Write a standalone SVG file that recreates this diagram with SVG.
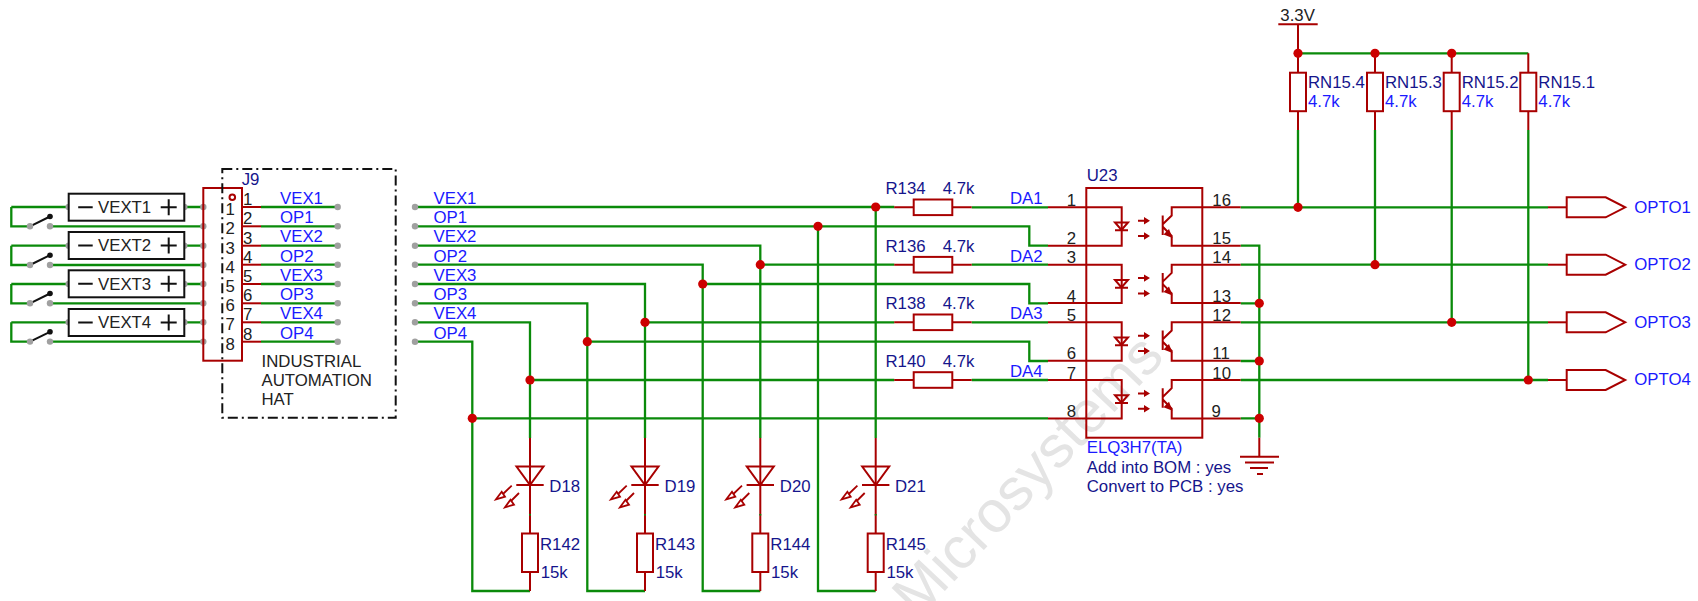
<svg xmlns="http://www.w3.org/2000/svg" xmlns:xlink="http://www.w3.org/1999/xlink" width="1698" height="601" viewBox="0 0 1698 601">
<style>
text{font-family:"Liberation Sans",Arial,sans-serif;font-size:16.8px;fill:#15158c}
.b{fill:#1a1aff}.k{fill:#222}
.wm{font-size:59px;fill:#e4e4e4}
.g{fill:none;stroke:#0a8a0a;stroke-width:2.3}
.r{fill:none;stroke:#a80000;stroke-width:2}
.rf{fill:#fff;stroke:#a80000;stroke-width:2}
.l{fill:none;stroke:#111;stroke-width:2}
.d{fill:#cc0000;stroke:none}
.p{fill:#a0a0a0;stroke:none}
.ah{fill:#a80000;stroke:none}
</style>
<defs>
<circle id="dot" class="d" r="4.6"/>
<circle id="pin" class="p" r="3.2"/>
<g id="vres"><rect class="rf" x="-8" y="0" width="16" height="38.5"/></g>
<g id="hres"><path class="r" d="M-19.5 0H0M38.6 0H58"/><rect class="rf" x="0" y="-7.8" width="38.6" height="15.6"/></g>
<g id="led"><path class="r" d="M0 0V95.5"/><path d="M-1 76h2v1.5h-2z" fill="#0a8a0a"/><path class="r" d="M-13.5 28.5H13.5L0 47ZM-13.7 47H13.7"/>
<path fill="none" stroke="#a80000" stroke-width="1.8" d="M-18.3 47.7L-27 56M-11 55L-19 63"/><path fill="none" stroke="#a80000" stroke-width="1.8" d="M-34 61.3L-28.3 53.7L-25 58.7ZM-25 69.3L-19.5 61.7L-16 66.7Z"/></g>
<g id="tag"><path class="r" d="M-18.7 0H0"/><path class="r" d="M0 -10H39L58.5 0L39 10H0Z"/></g>
<g id="opto">
<path class="r" d="M1048 207.3H1121.7V245.7H1048"/>
<path class="r" d="M1115 222.5H1128L1121.5 230ZM1115 230.3H1128"/>
<path class="r" d="M1138 220.7H1145M1138 236H1145"/><path class="ah" d="M1144 217L1150 220.7L1144 224.4ZM1144 232.3L1150 236L1144 239.7Z"/>
<path class="r" d="M1162.7 215.5V235M1163 224L1171.7 215.5V207.3H1240.7M1163 227L1171.7 236V245.7H1240.7"/>
<path class="ah" d="M1172.5 238L1163.5 234.5L1169 229Z"/>
</g>
<g id="vext"><rect x="0" y="-13.5" width="115.6" height="27" fill="#fff" stroke="#111" stroke-width="2"/><path class="l" d="M9.5 0H24M92 0H108M100 -8V8"/></g>
<g id="sw"><path class="g" d="M11.3 0H68M11.3 0V19.3H30M50 19.3H203.3M184.3 0H203.3"/><path class="l" d="M30 19.3L50 9.5"/><circle cx="50" cy="9.5" r="2.8" fill="#111"/>
<use xlink:href="#pin" x="30" y="19.3"/><use xlink:href="#pin" x="50" y="19.3"/><use xlink:href="#pin" x="68.7" y="0"/><use xlink:href="#pin" x="184.3" y="0"/><use xlink:href="#pin" x="203.3" y="0"/><use xlink:href="#pin" x="203.3" y="19.3"/></g>
<g id="hatpin"><path class="r" d="M242 0H261"/><path class="g" d="M261 0H337.7"/><use xlink:href="#pin" x="337.7" y="0"/><use xlink:href="#pin" x="415" y="0"/></g>
</defs>

<text class="wm" transform="translate(1166 358) rotate(-46.5)" text-anchor="end">t Microsystems</text>

<g id="connectors">
<path class="g" d="M415 207H894.3M971.7 207.3H1048"/>
<path class="g" d="M415 226.3H1029.3V245.7H1048"/>
<path class="g" d="M415 245.7H760.3V438"/>
<path class="g" d="M760.3 264.7H894.3M971.7 264.7H1048"/>
<path class="g" d="M415 264.7H702.7V591H760.3"/>
<path class="g" d="M702.7 284H1029.3V303.3H1048"/>
<path class="g" d="M415 284H645V438"/>
<path class="g" d="M645 322.3H894.3M971.7 322.3H1048"/>
<path class="g" d="M415 303.3H587.3V591H645"/>
<path class="g" d="M587.3 341.7H1029.3V361H1048"/>
<path class="g" d="M415 322.3H530V438"/>
<path class="g" d="M530 380H894.3M971.7 380H1048"/>
<path class="g" d="M415 341.7H472.3V591H530"/>
<path class="g" d="M472.3 418.3H1048"/>
<path class="g" d="M875.7 207V438"/>
<path class="g" d="M818 226.3V591H875.7"/>
<path class="r" d="M530 572V591M645 572V591M760.3 572V591M875.7 572V591"/>
<path class="g" d="M1240.7 207.3H1548M1240.7 264.7H1548M1240.7 322.3H1548M1240.7 380H1548"/>
<path class="g" d="M1240.7 245.7H1259.3V437.7M1240.7 303.3H1259.3M1240.7 361H1259.3M1240.7 418.3H1259.3"/>
<path class="g" d="M1298 53.3H1528.3M1298 130V207.3M1375 130V264.7M1451.7 130V322.3M1528.3 130V380"/>
<path class="r" d="M1298 24.3V72.7M1375 53.3V72.7M1451.7 53.3V72.7M1528.3 53.3V72.7M1298 111V130M1375 111V130M1451.7 111V130M1528.3 111V130"/>
<use xlink:href="#dot" x="875.7" y="207"/><use xlink:href="#dot" x="818" y="226.3"/><use xlink:href="#dot" x="760.3" y="264.7"/><use xlink:href="#dot" x="702.7" y="284"/>
<use xlink:href="#dot" x="645" y="322.3"/><use xlink:href="#dot" x="587.3" y="341.7"/><use xlink:href="#dot" x="530" y="380"/><use xlink:href="#dot" x="472.3" y="418.3"/>
<use xlink:href="#dot" x="1259.3" y="303.3"/><use xlink:href="#dot" x="1259.3" y="361"/><use xlink:href="#dot" x="1259.3" y="418.3"/>
<use xlink:href="#dot" x="1298" y="53.3"/><use xlink:href="#dot" x="1375" y="53.3"/><use xlink:href="#dot" x="1451.7" y="53.3"/>
<use xlink:href="#dot" x="1298" y="207.3"/><use xlink:href="#dot" x="1375" y="264.7"/><use xlink:href="#dot" x="1451.7" y="322.3"/><use xlink:href="#dot" x="1528.3" y="380"/>
</g>

<g id="switches">
<use xlink:href="#sw" y="207"/><use xlink:href="#sw" y="245.7"/><use xlink:href="#sw" y="284"/><use xlink:href="#sw" y="322.3"/>
</g>
<g id="VEXT1"><use xlink:href="#vext" x="68.7" y="207.2"/><text class="k" x="98" y="212.8">VEXT1</text></g>
<g id="VEXT2"><use xlink:href="#vext" x="68.7" y="245.5"/><text class="k" x="98" y="251.2">VEXT2</text></g>
<g id="VEXT3"><use xlink:href="#vext" x="68.7" y="283.8"/><text class="k" x="98" y="289.5">VEXT3</text></g>
<g id="VEXT4"><use xlink:href="#vext" x="68.7" y="322.5"/><text class="k" x="98" y="328">VEXT4</text></g>

<g id="J9">
<rect x="203.3" y="188" width="38.7" height="172.7" fill="none" stroke="#a80000" stroke-width="2"/>
<circle cx="232.3" cy="197.3" r="2.8" fill="none" stroke="#a80000" stroke-width="2"/>
<text x="241.7" y="185">J9</text>
<text class="k" x="225.5" y="215">1</text><text class="k" x="225.5" y="234">2</text><text class="k" x="225.5" y="254">3</text><text class="k" x="225.5" y="273">4</text><text class="k" x="225.5" y="292">5</text><text class="k" x="225.5" y="311">6</text><text class="k" x="225.5" y="330">7</text><text class="k" x="225.5" y="350">8</text>
<text class="k" x="243" y="205">1</text><text class="k" x="243" y="224">2</text><text class="k" x="243" y="244">3</text><text class="k" x="243" y="263">4</text><text class="k" x="243" y="282">5</text><text class="k" x="243" y="301">6</text><text class="k" x="243" y="320">7</text><text class="k" x="243" y="340">8</text>
<use xlink:href="#hatpin" y="207"/><use xlink:href="#hatpin" y="226.3"/><use xlink:href="#hatpin" y="245.7"/><use xlink:href="#hatpin" y="264.7"/><use xlink:href="#hatpin" y="284"/><use xlink:href="#hatpin" y="303.3"/><use xlink:href="#hatpin" y="322.3"/><use xlink:href="#hatpin" y="341.7"/>
<text class="b" x="280" y="204">VEX1</text><text class="b" x="280" y="223">OP1</text><text class="b" x="280" y="242">VEX2</text><text class="b" x="280" y="261.5">OP2</text><text class="b" x="280" y="281">VEX3</text><text class="b" x="280" y="300">OP3</text><text class="b" x="280" y="319">VEX4</text><text class="b" x="280" y="338.5">OP4</text>
</g>
<g id="hat-box"><rect x="222.3" y="169" width="173.4" height="248.7" fill="none" stroke="#111" stroke-width="2" stroke-dasharray="10 4 2 4"/>
<text class="k" x="261.5" y="366.7">INDUSTRIAL</text><text class="k" x="261.5" y="385.7">AUTOMATION</text><text class="k" x="261.5" y="405">HAT</text></g>
<g id="nets">
<text class="b" x="433.5" y="204">VEX1</text><text class="b" x="433.5" y="223">OP1</text><text class="b" x="433.5" y="242">VEX2</text><text class="b" x="433.5" y="261.5">OP2</text><text class="b" x="433.5" y="281">VEX3</text><text class="b" x="433.5" y="300">OP3</text><text class="b" x="433.5" y="319">VEX4</text><text class="b" x="433.5" y="338.5">OP4</text>
</g>

<g id="R134"><use xlink:href="#hres" x="913.7" y="207.3"/><text x="885.5" y="194">R134</text><text x="942.7" y="194">4.7k</text><text class="b" x="1010" y="204">DA1</text></g>
<g id="R136"><use xlink:href="#hres" x="913.7" y="264.7"/><text x="885.5" y="251.7">R136</text><text x="942.7" y="251.7">4.7k</text><text class="b" x="1010" y="261.7">DA2</text></g>
<g id="R138"><use xlink:href="#hres" x="913.7" y="322.3"/><text x="885.5" y="309.3">R138</text><text x="942.7" y="309.3">4.7k</text><text class="b" x="1010" y="319">DA3</text></g>
<g id="R140"><use xlink:href="#hres" x="913.7" y="380"/><text x="885.5" y="367">R140</text><text x="942.7" y="367">4.7k</text><text class="b" x="1010" y="376.7">DA4</text></g>

<g id="D18"><use xlink:href="#led" x="530" y="438"/><text x="549.3" y="491.7">D18</text></g>
<g id="D19"><use xlink:href="#led" x="645" y="438"/><text x="664.6" y="491.7">D19</text></g>
<g id="D20"><use xlink:href="#led" x="760.3" y="438"/><text x="779.8" y="491.7">D20</text></g>
<g id="D21"><use xlink:href="#led" x="875.7" y="438"/><text x="895" y="491.7">D21</text></g>
<g id="R142"><use xlink:href="#vres" x="530" y="533.5"/><text x="540" y="550">R142</text><text x="540.7" y="577.7">15k</text></g>
<g id="R143"><use xlink:href="#vres" x="645" y="533.5"/><text x="655" y="550">R143</text><text x="655.7" y="577.7">15k</text></g>
<g id="R144"><use xlink:href="#vres" x="760.3" y="533.5"/><text x="770.3" y="550">R144</text><text x="771" y="577.7">15k</text></g>
<g id="R145"><use xlink:href="#vres" x="875.7" y="533.5"/><text x="885.7" y="550">R145</text><text x="886.4" y="577.7">15k</text></g>

<g id="U23">
<rect x="1086.3" y="188" width="116" height="249.7" fill="none" stroke="#a80000" stroke-width="2"/>
<use xlink:href="#opto"/><use xlink:href="#opto" y="57.4"/><use xlink:href="#opto" y="115"/><use xlink:href="#opto" y="172.7"/>
<text x="1086.7" y="180.7">U23</text>
<text class="b" x="1086.7" y="453.3">ELQ3H7(TA)</text>
<text x="1086.7" y="472.5">Add into BOM : yes</text>
<text x="1086.7" y="491.5">Convert to PCB : yes</text>
<g text-anchor="end"><text class="k" x="1076" y="205.7">1</text><text class="k" x="1076" y="244">2</text><text class="k" x="1076" y="263">3</text><text class="k" x="1076" y="301.7">4</text><text class="k" x="1076" y="321">5</text><text class="k" x="1076" y="359">6</text><text class="k" x="1076" y="379">7</text><text class="k" x="1076" y="416.7">8</text></g>
<text class="k" x="1212.3" y="205.7">16</text><text class="k" x="1212.3" y="244">15</text><text class="k" x="1212.3" y="263">14</text><text class="k" x="1212.3" y="301.7">13</text><text class="k" x="1212.3" y="321">12</text><text class="k" x="1212.3" y="359">11</text><text class="k" x="1212.3" y="379">10</text><text class="k" x="1211.5" y="416.7">9</text>
</g>
<g id="GND"><path class="r" d="M1259.3 437.7V456.7M1240 456.7H1279M1245 462.5H1274M1250 468H1268M1257 474H1263"/></g>
<g id="VCC"><path class="r" d="M1278.3 24.3H1317.7"/><text class="k" x="1280.3" y="20.7">3.3V</text></g>
<g id="RN15.4"><use xlink:href="#vres" x="1298" y="72.7"/><text x="1308" y="88.3">RN15.4</text><text class="b" x="1308" y="107.3">4.7k</text></g>
<g id="RN15.3"><use xlink:href="#vres" x="1375" y="72.7"/><text x="1385" y="88.3">RN15.3</text><text class="b" x="1385" y="107.3">4.7k</text></g>
<g id="RN15.2"><use xlink:href="#vres" x="1451.7" y="72.7"/><text x="1461.7" y="88.3">RN15.2</text><text class="b" x="1461.7" y="107.3">4.7k</text></g>
<g id="RN15.1"><use xlink:href="#vres" x="1528.3" y="72.7"/><text x="1538.3" y="88.3">RN15.1</text><text class="b" x="1538.3" y="107.3">4.7k</text></g>
<g id="OPTO1"><use xlink:href="#tag" x="1566.7" y="207.3"/><text class="b" x="1634.3" y="212.5">OPTO1</text></g>
<g id="OPTO2"><use xlink:href="#tag" x="1566.7" y="264.7"/><text class="b" x="1634.3" y="270">OPTO2</text></g>
<g id="OPTO3"><use xlink:href="#tag" x="1566.7" y="322.3"/><text class="b" x="1634.3" y="327.5">OPTO3</text></g>
<g id="OPTO4"><use xlink:href="#tag" x="1566.7" y="380"/><text class="b" x="1634.3" y="385.3">OPTO4</text></g>
</svg>
